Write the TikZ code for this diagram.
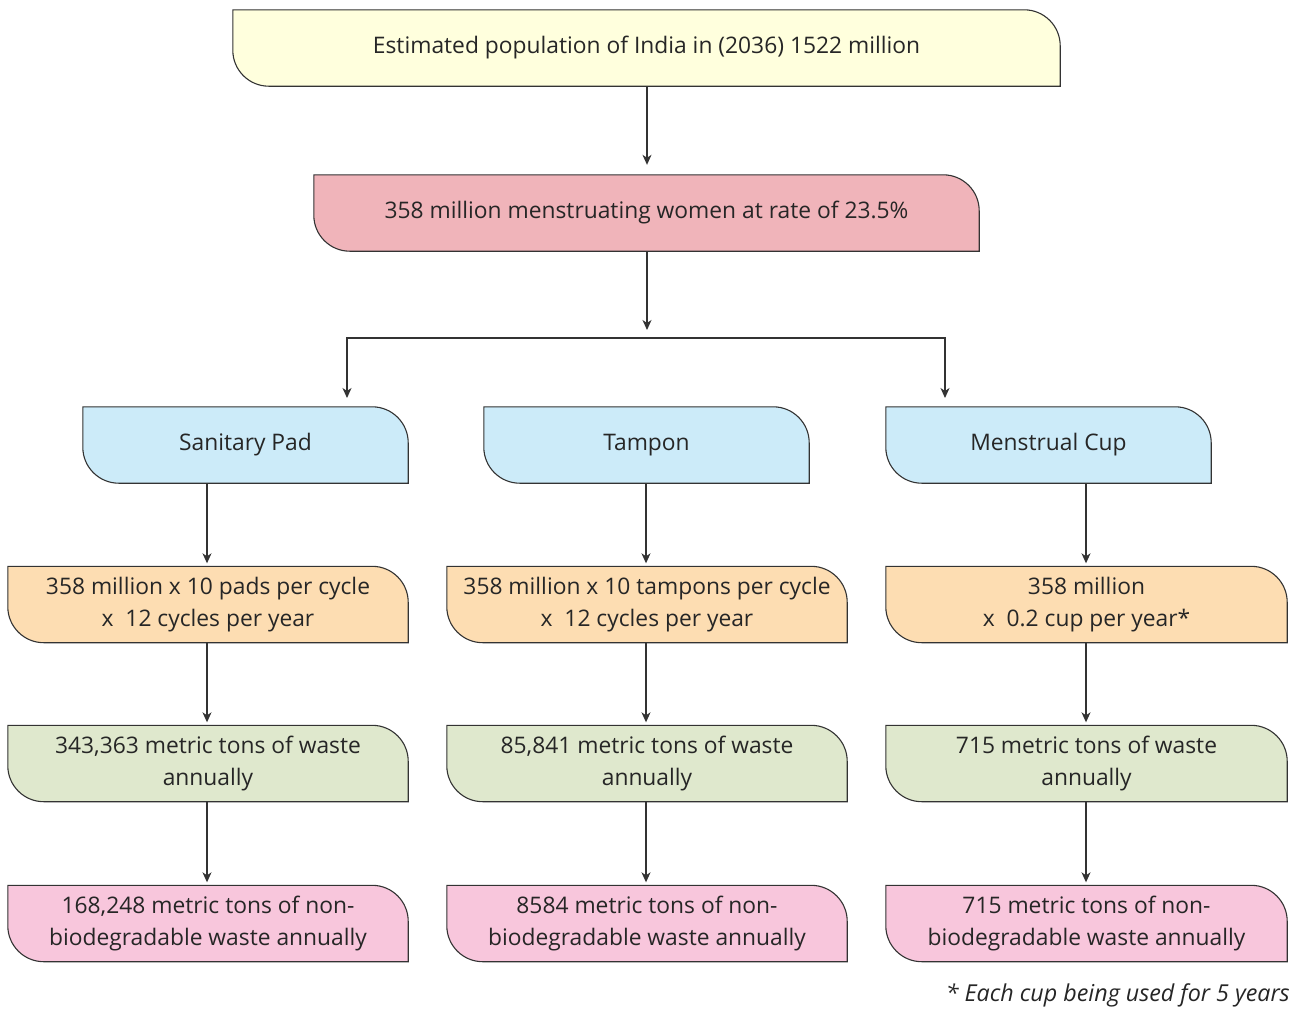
\documentclass[tikz,border=0pt]{standalone}
\usepackage{fontspec}
\setmainfont{Open Sans}
\usetikzlibrary{arrows.meta}
\pgfdeclarelayer{background}
\pgfsetlayers{background,main}
\definecolor{cyellow}{HTML}{FFFFDD}
\definecolor{cpinkA}{HTML}{F0B4BA}
\definecolor{cblue}{HTML}{CCEBF9}
\definecolor{corange}{HTML}{FDDDB2}
\definecolor{cgreen}{HTML}{DFE8CD}
\definecolor{cpinkB}{HTML}{F8C6DC}
\definecolor{cline}{HTML}{333333}
\definecolor{ctext}{HTML}{262626}
\newcommand{\Rad}{36pt}
\tikzset{
  boxtext/.style={draw=none, inner sep=0pt, align=center, text=ctext,
    font=\fontsize{22.8}{32}\selectfont, minimum height=76pt},
  boxline/.style={draw=cline, line width=1.1pt},
  arr/.style={draw=cline, line width=1.1pt, -{Stealth[length=10pt,width=9pt,inset=3pt]}},
  plain/.style={draw=cline, line width=1.1pt},
}
\newcommand{\flowbox}[6]{%
  \node[boxtext, minimum width=#5pt] (#1) at (#3,-#4) {#6};
  \begin{pgfonlayer}{background}
  \draw[boxline, fill=#2] (#1.north west) -- ([xshift=-\Rad]#1.north east)
    arc[start angle=90,end angle=0,radius=\Rad] -- (#1.south east)
    -- ([xshift=\Rad]#1.south west) arc[start angle=270,end angle=180,radius=\Rad] -- cycle;
  \end{pgfonlayer}
}
\begin{document}
\begin{tikzpicture}[x=1pt,y=1pt]
\begin{pgfonlayer}{background}
\fill[white] (0,0) rectangle (1303,-1012);
\end{pgfonlayer}
\useasboundingbox (0,0) rectangle (1303,-1012);
\flowbox{top}{cyellow}{646.5}{48}{827}{Estimated population of India in (2036) 1522 million}
\flowbox{mid}{cpinkA}{646.5}{213}{665}{358 million menstruating women at rate of 23.5\%}
\flowbox{b1}{cblue}{245.5}{445}{325}{Sanitary Pad}
\flowbox{b2}{cblue}{646.5}{445}{325}{Tampon}
\flowbox{b3}{cblue}{1048.5}{445}{325}{Menstrual Cup}
\flowbox{o1}{corange}{208}{604.5}{400}{358 million x 10 pads per cycle\\x\ \ 12 cycles per year}
\flowbox{o2}{corange}{647}{604.5}{400}{358 million x 10 tampons per cycle\\x\ \ 12 cycles per year}
\flowbox{o3}{corange}{1086.5}{604.5}{401}{358 million\\x\ \ 0.2 cup per year*}
\flowbox{g1}{cgreen}{208}{763.5}{400}{343,363 metric tons of waste\\annually}
\flowbox{g2}{cgreen}{647}{763.5}{400}{85,841 metric tons of waste\\annually}
\flowbox{g3}{cgreen}{1086.5}{763.5}{401}{715 metric tons of waste\\annually}
\flowbox{p1}{cpinkB}{208}{923.5}{400}{168,248 metric tons of non-\\biodegradable waste annually}
\flowbox{p2}{cpinkB}{647}{923.5}{400}{8584 metric tons of non-\\biodegradable waste annually}
\flowbox{p3}{cpinkB}{1086.5}{923.5}{401}{715 metric tons of non-\\biodegradable waste annually}
\node[anchor=east, inner sep=0pt, text=ctext, font=\fontsize{23.3}{26}\selectfont\itshape] (note) at (1290,-995) {* Each cup being used for 5 years};
% connectors
\draw[arr, shorten >=10pt] ([xshift=0.5pt]top.south) -- ([xshift=0.5pt]mid.north);
\coordinate (jM) at (647,-330);
\coordinate (jL) at (347,-338);
\coordinate (jR) at (945,-338);
\coordinate (tL) at (347,-398);
\coordinate (tR) at (945,-398);
\draw[arr] ([xshift=0.5pt]mid.south) -- (jM);
\draw[plain, line cap=rect] (jL) -- (jR);
\draw[arr] (jL) -- (tL);
\draw[arr] (jR) -- (tR);
\foreach \u/\v/\dx in {b1/o1/-1,b2/o2/-1,b3/o3/-0.5,o1/g1/-1,o2/g2/-1,o3/g3/-0.5,g1/p1/-1,g2/p2/-1,g3/p3/-0.5}{
  \draw[arr, shorten >=3pt] ([xshift=\dx pt]\v.north |- \u.south) -- ([xshift=\dx pt]\v.north);
}
\end{tikzpicture}
\end{document}
